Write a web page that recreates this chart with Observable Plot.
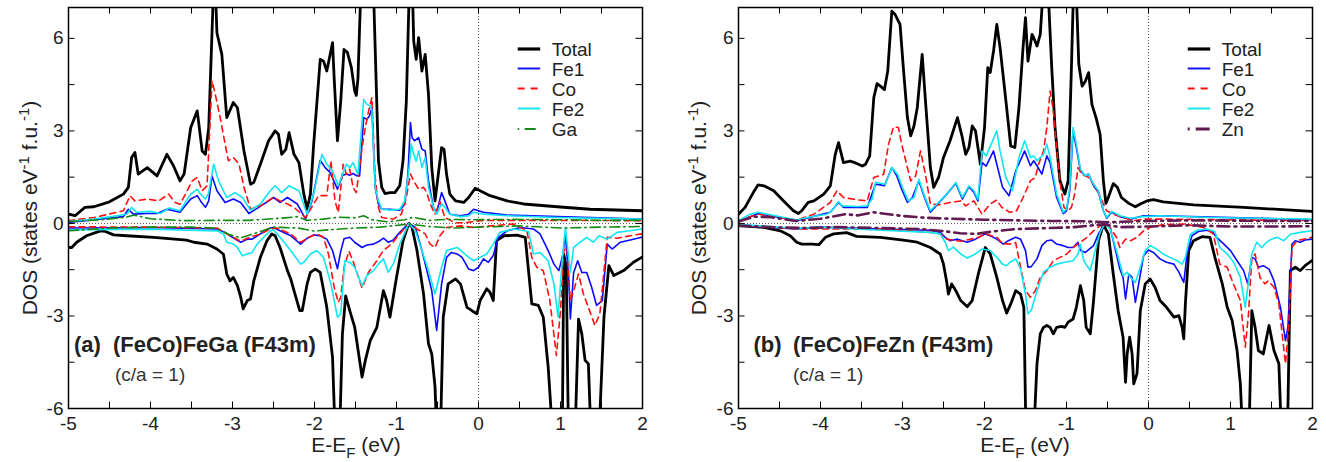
<!DOCTYPE html>
<html><head><meta charset="utf-8">
<script src="https://cdn.jsdelivr.net/npm/d3@7"></script>
<script src="https://cdn.jsdelivr.net/npm/@observablehq/plot@0.6"></script>
<style>
html,body{margin:0;padding:0;background:#fff;}
#wrap{position:relative;width:1326px;height:462px;overflow:hidden;font-family:"Liberation Sans",Arial,Helvetica,sans-serif;}
#wrap .panel{position:absolute;top:0;}
#overlay{position:absolute;left:0;top:0;pointer-events:none;}
</style></head><body><div id="wrap"></div>
<script>
// ---------- axis ticks ----------
const xTickVals = [-5,-4.5,-4,-3.5,-3,-2.5,-2,-1.5,-1,-0.5,0,0.5,1,1.5,2];
const xLabelVals = [-5,-4,-3,-2,-1,0,1,2];
const yTickVals = [-6,-4.5,-3,-1.5,0,1.5,3,4.5,6];
const yLabelVals = [-6,-3,0,3,6];

// ---------- panel (a) (FeCo)FeGa : [E-EF (eV), DOS] ----------
const totalUpA = [[-5.00,0.30],[-4.92,0.25],[-4.80,0.52],[-4.69,0.54],[-4.50,0.70],[-4.33,0.95],[-4.27,1.17],[-4.23,2.14],[-4.19,2.30],[-4.15,1.60],[-4.04,1.81],[-3.92,1.54],[-3.80,2.24],[-3.72,1.87],[-3.64,1.38],[-3.59,1.60],[-3.51,3.10],[-3.43,3.65],[-3.37,2.35],[-3.33,2.24],[-3.29,3.10],[-3.22,8.50],[-3.19,6.18],[-3.13,5.48],[-3.07,3.43],[-2.99,3.92],[-2.94,3.75],[-2.86,2.35],[-2.78,1.27],[-2.74,1.33],[-2.66,1.92],[-2.56,2.68],[-2.48,3.00],[-2.44,2.89],[-2.40,2.24],[-2.35,2.40],[-2.31,2.94],[-2.25,2.24],[-2.19,1.97],[-2.13,0.95],[-2.09,0.46],[-2.05,0.95],[-2.01,2.57],[-1.93,5.32],[-1.89,5.26],[-1.85,4.94],[-1.78,5.86],[-1.76,4.70],[-1.72,2.68],[-1.68,3.97],[-1.64,5.64],[-1.60,5.55],[-1.55,5.05],[-1.51,4.29],[-1.49,4.15],[-1.47,4.70],[-1.43,8.00],[-1.36,9.50],[-1.28,7.50],[-1.22,2.03],[-1.18,1.17],[-1.14,0.97],[-1.08,1.00],[-1.02,1.00],[-0.96,1.22],[-0.92,2.03],[-0.88,3.97],[-0.84,8.00],[-0.81,8.00],[-0.79,5.91],[-0.76,5.32],[-0.73,6.02],[-0.69,4.94],[-0.65,5.48],[-0.61,4.19],[-0.57,1.81],[-0.53,0.73],[-0.49,1.60],[-0.45,2.46],[-0.42,2.40],[-0.39,1.60],[-0.35,0.95],[-0.28,0.73],[-0.18,0.68],[-0.12,0.84],[-0.04,1.14],[0.02,1.06],[0.14,0.90],[0.35,0.73],[0.55,0.63],[0.96,0.54],[1.36,0.46],[2.00,0.41]];
const totalDnA = [[-5.00,-0.78],[-4.96,-0.78],[-4.90,-0.61],[-4.78,-0.40],[-4.61,-0.24],[-4.55,-0.26],[-4.45,-0.37],[-4.29,-0.40],[-3.96,-0.45],[-3.56,-0.54],[-3.47,-0.61],[-3.31,-0.67],[-3.19,-0.83],[-3.11,-1.00],[-3.07,-1.64],[-3.03,-1.86],[-2.99,-1.75],[-2.94,-2.02],[-2.90,-2.39],[-2.87,-2.77],[-2.82,-2.50],[-2.78,-2.45],[-2.74,-1.86],[-2.66,-1.10],[-2.58,-0.56],[-2.52,-0.34],[-2.48,-0.40],[-2.42,-0.78],[-2.33,-1.53],[-2.29,-1.80],[-2.25,-2.18],[-2.18,-2.83],[-2.15,-2.83],[-2.09,-1.96],[-2.05,-1.59],[-1.99,-1.48],[-1.93,-1.59],[-1.85,-2.72],[-1.78,-4.34],[-1.74,-7.50],[-1.70,-7.50],[-1.66,-3.60],[-1.62,-2.35],[-1.57,-2.83],[-1.51,-3.36],[-1.42,-4.98],[-1.38,-4.44],[-1.32,-3.80],[-1.24,-3.37],[-1.16,-2.18],[-1.12,-2.50],[-1.08,-3.04],[-1.00,-1.75],[-0.92,-0.56],[-0.85,0.00],[-0.81,-0.13],[-0.75,-0.88],[-0.67,-2.29],[-0.61,-3.90],[-0.57,-4.23],[-0.53,-5.30],[-0.50,-7.50],[-0.47,-7.50],[-0.43,-3.04],[-0.37,-1.96],[-0.28,-1.80],[-0.22,-1.96],[-0.14,-2.72],[-0.08,-2.83],[-0.02,-2.93],[0.02,-2.50],[0.10,-2.12],[0.14,-2.23],[0.18,-2.50],[0.22,-0.56],[0.31,-0.40],[0.47,-0.38],[0.57,-0.45],[0.65,-2.61],[0.73,-2.66],[0.79,-3.04],[0.85,-4.66],[0.92,-7.50],[1.02,-7.50],[1.04,-1.00],[1.07,-1.40],[1.10,-7.50],[1.17,-7.50],[1.22,-3.10],[1.26,-3.58],[1.30,-4.44],[1.34,-4.55],[1.38,-7.50],[1.46,-7.50],[1.53,-3.04],[1.59,-1.37],[1.65,-1.69],[1.77,-1.53],[1.89,-1.26],[1.99,-1.10]];
const fe1UpA = [[-5.00,0.03],[-4.33,0.22],[-4.27,0.46],[-4.21,0.30],[-4.04,0.32],[-3.92,0.32],[-3.80,0.46],[-3.64,0.36],[-3.51,0.79],[-3.43,0.90],[-3.39,0.73],[-3.33,0.52],[-3.29,0.73],[-3.25,1.54],[-3.19,1.06],[-3.09,0.68],[-2.99,0.79],[-2.90,0.68],[-2.80,0.32],[-2.68,0.52],[-2.56,0.73],[-2.50,0.84],[-2.42,0.68],[-2.33,0.84],[-2.21,0.63],[-2.11,0.14],[-2.03,0.73],[-1.93,2.05],[-1.87,1.81],[-1.81,1.65],[-1.72,1.11],[-1.66,1.55],[-1.61,1.60],[-1.57,1.56],[-1.53,1.62],[-1.49,1.55],[-1.45,1.54],[-1.40,3.43],[-1.36,3.38],[-1.33,3.48],[-1.30,3.75],[-1.26,1.17],[-1.22,0.62],[-1.18,0.46],[-1.08,0.46],[-0.96,0.43],[-0.90,0.62],[-0.86,1.60],[-0.83,3.27],[-0.81,2.78],[-0.78,2.68],[-0.73,2.78],[-0.69,2.41],[-0.65,2.35],[-0.61,1.38],[-0.55,0.52],[-0.51,0.36],[-0.45,1.00],[-0.41,0.73],[-0.35,0.30],[-0.22,0.25],[-0.12,0.30],[-0.06,0.46],[0.06,0.36],[0.35,0.27],[0.96,0.22],[2.00,0.14]];
const fe1DnA = [[-5.00,-0.15],[-4.00,-0.13],[-3.19,-0.18],[-3.09,-0.29],[-3.03,-0.40],[-2.90,-0.61],[-2.82,-0.51],[-2.76,-0.51],[-2.66,-0.34],[-2.54,-0.15],[-2.50,-0.13],[-2.42,-0.24],[-2.29,-0.40],[-2.17,-0.67],[-2.09,-0.48],[-2.01,-0.37],[-1.93,-0.40],[-1.85,-0.51],[-1.78,-0.88],[-1.72,-1.47],[-1.68,-0.90],[-1.64,-0.50],[-1.57,-0.45],[-1.51,-0.61],[-1.42,-0.78],[-1.36,-0.70],[-1.28,-0.67],[-1.20,-0.56],[-1.16,-0.48],[-1.10,-0.61],[-1.04,-0.54],[-0.96,-0.29],[-0.85,0.00],[-0.77,-0.13],[-0.69,-0.88],[-0.63,-1.53],[-0.57,-2.18],[-0.51,-3.47],[-0.45,-1.96],[-0.39,-1.10],[-0.33,-0.94],[-0.26,-0.99],[-0.20,-1.10],[-0.12,-1.48],[-0.06,-1.53],[0.00,-1.42],[0.06,-1.15],[0.12,-1.26],[0.18,-1.04],[0.24,-0.45],[0.35,-0.24],[0.51,-0.13],[0.67,-0.18],[0.75,-0.34],[0.85,-0.88],[0.92,-1.32],[0.98,-1.53],[1.03,-1.00],[1.06,-0.35],[1.10,-1.80],[1.12,-3.10],[1.16,-1.60],[1.21,-1.21],[1.26,-1.59],[1.32,-1.59],[1.38,-2.07],[1.44,-2.66],[1.51,-2.50],[1.57,-0.67],[1.63,-0.83],[1.73,-0.61],[1.85,-0.54],[1.99,-0.45]];
const coUpA = [[-5.00,0.09],[-4.69,0.19],[-4.33,0.41],[-4.25,0.90],[-4.19,0.73],[-4.04,0.79],[-3.90,0.73],[-3.78,0.95],[-3.70,0.68],[-3.64,0.62],[-3.49,1.38],[-3.43,1.49],[-3.37,1.06],[-3.31,1.22],[-3.25,4.62],[-3.21,4.19],[-3.15,3.43],[-3.09,2.57],[-3.05,2.03],[-2.99,2.14],[-2.92,1.92],[-2.86,1.17],[-2.78,0.46],[-2.66,0.57],[-2.50,0.84],[-2.42,0.73],[-2.33,0.63],[-2.25,0.52],[-2.11,0.19],[-2.01,0.63],[-1.95,0.90],[-1.85,0.90],[-1.80,2.03],[-1.75,0.73],[-1.71,0.36],[-1.65,1.92],[-1.61,1.59],[-1.57,1.76],[-1.53,1.17],[-1.49,1.00],[-1.42,2.46],[-1.38,3.11],[-1.34,3.65],[-1.30,4.08],[-1.26,1.49],[-1.22,0.52],[-1.18,0.19],[-1.04,0.14],[-0.94,0.30],[-0.88,0.84],[-0.83,1.60],[-0.79,1.38],[-0.73,1.11],[-0.67,1.17],[-0.63,1.00],[-0.59,0.63],[-0.53,0.30],[-0.47,0.70],[-0.41,0.19],[-0.28,0.02],[-0.16,0.02],[0.02,0.09],[0.35,0.10],[2.00,0.09]];
const coDnA = [[-5.00,-0.11],[-4.00,-0.12],[-3.19,-0.15],[-3.07,-0.34],[-2.90,-0.58],[-2.82,-0.48],[-2.66,-0.34],[-2.54,-0.18],[-2.46,-0.15],[-2.29,-0.34],[-2.17,-0.61],[-2.05,-0.43],[-1.97,-0.34],[-1.89,-0.45],[-1.83,-0.99],[-1.76,-2.07],[-1.71,-2.56],[-1.68,-2.40],[-1.64,-1.42],[-1.58,-0.90],[-1.52,-1.30],[-1.42,-2.09],[-1.34,-1.58],[-1.24,-1.21],[-1.16,-0.88],[-1.06,-0.67],[-0.96,-0.34],[-0.85,0.00],[-0.75,-0.18],[-0.65,-0.34],[-0.59,-0.67],[-0.53,-0.78],[-0.47,-0.40],[-0.39,-0.13],[-0.22,-0.08],[-0.06,-0.13],[0.14,-0.08],[0.43,-0.02],[0.59,-0.24],[0.65,-1.10],[0.71,-1.42],[0.79,-1.53],[0.87,-2.50],[0.95,-4.28],[1.00,-2.83],[1.04,-0.88],[1.08,-0.78],[1.12,-2.50],[1.16,-2.18],[1.22,-1.64],[1.28,-2.29],[1.34,-2.72],[1.42,-3.31],[1.48,-2.93],[1.57,-0.45],[1.69,-0.48],[1.85,-0.40],[1.99,-0.34]];
const fe2UpA = [[-5.00,0.06],[-4.69,0.14],[-4.29,0.30],[-4.23,0.52],[-4.17,0.36],[-4.00,0.39],[-3.88,0.32],[-3.77,0.50],[-3.64,0.41],[-3.51,0.95],[-3.43,1.11],[-3.39,0.95],[-3.33,0.79],[-3.29,1.00],[-3.23,1.92],[-3.17,1.38],[-3.07,0.84],[-2.97,1.00],[-2.88,0.84],[-2.78,0.43],[-2.66,0.63],[-2.54,1.06],[-2.48,1.22],[-2.40,1.00],[-2.31,1.22],[-2.19,1.06],[-2.09,0.30],[-2.01,0.95],[-1.91,2.24],[-1.85,1.92],[-1.78,1.70],[-1.71,1.22],[-1.65,1.65],[-1.61,1.92],[-1.57,1.81],[-1.53,1.97],[-1.47,1.59],[-1.40,4.02],[-1.36,3.86],[-1.32,3.81],[-1.30,3.65],[-1.26,1.17],[-1.22,0.73],[-1.18,0.46],[-1.08,0.43],[-0.96,0.46],[-0.90,0.73],[-0.85,1.70],[-0.82,2.57],[-0.79,2.24],[-0.76,2.02],[-0.73,2.35],[-0.69,1.81],[-0.65,2.14],[-0.61,1.17],[-0.55,0.52],[-0.51,0.30],[-0.45,0.63],[-0.41,0.52],[-0.35,0.30],[-0.22,0.22],[-0.12,0.25],[-0.06,0.36],[0.06,0.30],[0.35,0.25],[0.96,0.19],[2.00,0.14]];
const fe2DnA = [[-5.00,-0.21],[-4.00,-0.19],[-3.19,-0.24],[-3.11,-0.34],[-3.07,-0.61],[-2.99,-0.67],[-2.94,-0.78],[-2.88,-1.05],[-2.82,-0.99],[-2.76,-0.94],[-2.70,-0.67],[-2.62,-0.45],[-2.54,-0.24],[-2.50,-0.21],[-2.42,-0.45],[-2.29,-0.88],[-2.17,-1.32],[-2.13,-1.26],[-2.05,-0.99],[-1.97,-0.88],[-1.89,-1.10],[-1.80,-1.96],[-1.72,-3.04],[-1.68,-2.93],[-1.63,-1.21],[-1.57,-1.26],[-1.51,-1.42],[-1.42,-2.02],[-1.36,-1.69],[-1.28,-1.53],[-1.22,-1.32],[-1.16,-1.15],[-1.10,-1.58],[-1.04,-1.32],[-0.96,-0.67],[-0.85,0.00],[-0.77,-0.24],[-0.69,-0.88],[-0.61,-1.53],[-0.53,-2.29],[-0.45,-1.42],[-0.39,-0.88],[-0.26,-0.78],[-0.14,-1.05],[-0.06,-1.21],[0.02,-1.10],[0.10,-0.99],[0.18,-0.67],[0.26,-0.29],[0.43,-0.18],[0.61,-0.26],[0.67,-0.99],[0.75,-0.94],[0.85,-1.21],[0.92,-1.96],[0.97,-3.04],[1.02,-1.21],[1.06,-0.13],[1.12,-1.59],[1.16,-0.78],[1.24,-0.61],[1.32,-0.45],[1.40,-0.61],[1.47,-0.40],[1.57,-0.51],[1.69,-0.29],[1.85,-0.24],[1.99,-0.18]];
const gaUpA = [[-5.00,0.06],[-4.60,0.12],[-4.30,0.20],[-4.20,0.27],[-4.00,0.15],[-3.60,0.09],[-3.20,0.10],[-2.80,0.10],[-2.40,0.17],[-2.20,0.22],[-2.10,0.10],[-1.90,0.14],[-1.70,0.20],[-1.50,0.18],[-1.40,0.25],[-1.30,0.12],[-1.10,0.05],[-0.90,0.12],[-0.80,0.20],[-0.60,0.10],[-0.40,0.13],[-0.10,0.12],[0.40,0.13],[1.00,0.12],[1.50,0.10],[2.00,0.10]];
const gaDnA = [[-5.00,-0.24],[-4.50,-0.15],[-4.00,-0.12],[-3.50,-0.12],[-3.20,-0.15],[-3.05,-0.35],[-2.90,-0.47],[-2.70,-0.30],[-2.50,-0.12],[-2.20,-0.15],[-2.00,-0.25],[-1.80,-0.20],[-1.50,-0.15],[-1.20,-0.12],[-0.85,-0.02],[-0.60,-0.10],[-0.30,-0.15],[0.00,-0.12],[0.50,-0.08],[1.00,-0.15],[1.50,-0.12],[2.00,-0.10]];

// ---------- panel (b) (FeCo)FeZn ----------
const totalUpB = [[-5.00,0.30],[-4.92,0.52],[-4.82,1.00],[-4.76,1.25],[-4.69,1.22],[-4.57,1.06],[-4.45,0.73],[-4.33,0.41],[-4.27,0.32],[-4.23,0.41],[-4.15,0.68],[-4.08,0.73],[-3.96,0.95],[-3.88,1.22],[-3.82,2.24],[-3.78,2.62],[-3.72,1.97],[-3.64,2.02],[-3.58,1.97],[-3.49,1.86],[-3.45,1.92],[-3.40,2.19],[-3.35,4.08],[-3.31,4.53],[-3.27,4.45],[-3.22,4.34],[-3.18,4.94],[-3.13,6.88],[-3.09,6.77],[-3.03,6.45],[-2.99,5.05],[-2.94,3.43],[-2.90,2.84],[-2.86,3.16],[-2.82,3.75],[-2.76,5.48],[-2.72,3.97],[-2.66,1.81],[-2.62,1.17],[-2.56,1.49],[-2.50,2.14],[-2.42,2.68],[-2.33,3.43],[-2.27,2.78],[-2.23,2.24],[-2.19,2.46],[-2.15,3.16],[-2.11,3.00],[-2.05,1.92],[-2.00,3.10],[-1.96,5.05],[-1.93,4.89],[-1.89,5.59],[-1.85,6.45],[-1.81,5.70],[-1.74,4.00],[-1.68,2.51],[-1.63,2.46],[-1.58,3.75],[-1.53,5.70],[-1.50,6.67],[-1.47,5.26],[-1.42,6.13],[-1.40,6.02],[-1.36,5.75],[-1.32,6.13],[-1.25,9.00],[-1.18,5.05],[-1.14,3.11],[-1.08,1.38],[-1.02,0.95],[-0.98,1.38],[-0.94,5.05],[-0.90,9.00],[-0.85,5.16],[-0.81,4.45],[-0.77,4.61],[-0.73,4.89],[-0.69,3.86],[-0.64,3.43],[-0.59,2.89],[-0.55,1.38],[-0.52,0.65],[-0.49,0.84],[-0.43,1.29],[-0.38,1.17],[-0.33,0.84],[-0.24,0.65],[-0.16,0.54],[-0.10,0.63],[-0.02,0.73],[0.06,0.77],[0.18,0.70],[0.55,0.60],[1.16,0.52],[1.99,0.39]];
const totalDnB = [[-5.00,-0.07],[-4.69,-0.13],[-4.49,-0.24],[-4.37,-0.40],[-4.29,-0.61],[-4.23,-0.67],[-4.10,-0.67],[-4.02,-0.69],[-3.94,-0.45],[-3.84,-0.34],[-3.68,-0.30],[-3.56,-0.42],[-3.27,-0.45],[-2.99,-0.54],[-2.82,-0.61],[-2.66,-0.78],[-2.54,-0.99],[-2.50,-1.32],[-2.46,-1.91],[-2.44,-2.29],[-2.40,-1.96],[-2.35,-2.18],[-2.29,-2.50],[-2.21,-2.70],[-2.15,-2.50],[-2.07,-1.58],[-1.99,-0.78],[-1.93,-0.99],[-1.85,-1.75],[-1.78,-2.50],[-1.73,-2.91],[-1.68,-2.61],[-1.62,-2.18],[-1.56,-2.29],[-1.52,-2.72],[-1.49,-7.50],[-1.41,-7.50],[-1.36,-4.55],[-1.32,-3.58],[-1.28,-3.37],[-1.24,-3.31],[-1.20,-3.37],[-1.16,-3.58],[-1.12,-3.37],[-1.06,-3.34],[-1.02,-3.37],[-0.98,-3.20],[-0.92,-3.10],[-0.88,-2.72],[-0.83,-2.02],[-0.79,-2.50],[-0.76,-3.37],[-0.71,-3.58],[-0.67,-2.50],[-0.61,-0.56],[-0.55,-0.04],[-0.49,-0.34],[-0.43,-1.64],[-0.37,-2.83],[-0.31,-3.69],[-0.28,-5.15],[-0.26,-4.23],[-0.23,-3.69],[-0.20,-4.23],[-0.18,-5.20],[-0.14,-4.87],[-0.10,-2.83],[-0.04,-1.96],[0.02,-1.80],[0.08,-2.07],[0.14,-2.50],[0.22,-2.72],[0.31,-3.04],[0.37,-2.99],[0.41,-3.37],[0.43,-3.74],[0.45,-2.60],[0.49,-0.88],[0.55,-0.56],[0.65,-0.43],[0.75,-0.45],[0.81,-1.10],[0.90,-1.96],[0.96,-2.72],[1.02,-3.15],[1.08,-4.12],[1.12,-5.20],[1.16,-7.50],[1.22,-7.50],[1.26,-2.83],[1.30,-3.37],[1.34,-4.12],[1.40,-4.23],[1.47,-3.31],[1.53,-4.12],[1.59,-4.55],[1.63,-7.50],[1.69,-7.50],[1.73,-1.53],[1.79,-1.42],[1.85,-1.53],[1.91,-1.37],[1.99,-1.21]];
const fe1UpB = [[-5.00,0.06],[-4.76,0.32],[-4.29,0.09],[-3.88,0.36],[-3.78,0.68],[-3.72,0.52],[-3.43,0.52],[-3.33,1.27],[-3.27,1.25],[-3.22,1.22],[-3.13,1.81],[-3.07,1.54],[-3.01,1.11],[-2.94,0.68],[-2.88,0.84],[-2.80,1.38],[-2.74,0.90],[-2.66,0.36],[-2.58,0.60],[-2.46,0.95],[-2.35,1.30],[-2.27,0.79],[-2.19,1.19],[-2.13,1.01],[-2.08,0.73],[-2.03,1.97],[-1.98,1.86],[-1.89,2.35],[-1.85,1.92],[-1.78,1.17],[-1.70,0.90],[-1.62,1.70],[-1.51,2.35],[-1.44,1.87],[-1.40,2.03],[-1.36,1.87],[-1.30,1.60],[-1.24,2.19],[-1.20,1.97],[-1.12,0.84],[-1.04,0.32],[-1.00,0.41],[-0.96,1.06],[-0.92,3.00],[-0.88,2.46],[-0.83,1.70],[-0.77,1.54],[-0.73,1.60],[-0.67,1.22],[-0.61,1.00],[-0.55,0.41],[-0.51,0.17],[-0.45,0.36],[-0.35,0.22],[-0.22,0.14],[-0.06,0.25],[0.14,0.25],[1.99,0.12]];
const fe1DnB = [[-5.00,-0.07],[-4.29,-0.18],[-4.00,-0.12],[-3.27,-0.18],[-2.66,-0.22],[-2.54,-0.29],[-2.48,-0.45],[-2.42,-0.56],[-2.33,-0.51],[-2.21,-0.61],[-2.11,-0.51],[-1.99,-0.34],[-1.93,-0.40],[-1.85,-0.51],[-1.77,-0.67],[-1.71,-0.56],[-1.62,-0.45],[-1.56,-0.51],[-1.50,-0.88],[-1.47,-1.42],[-1.43,-1.40],[-1.36,-1.15],[-1.30,-0.72],[-1.24,-0.56],[-1.18,-0.54],[-1.12,-0.67],[-1.04,-0.72],[-0.98,-0.78],[-0.92,-0.78],[-0.86,-0.61],[-0.83,-0.88],[-0.77,-0.94],[-0.67,-0.72],[-0.61,-0.34],[-0.55,-0.08],[-0.51,0.00],[-0.47,-0.13],[-0.41,-0.78],[-0.35,-1.48],[-0.31,-1.75],[-0.28,-2.45],[-0.24,-1.64],[-0.20,-1.75],[-0.16,-2.56],[-0.12,-1.96],[-0.06,-1.05],[0.00,-0.86],[0.06,-0.94],[0.14,-1.15],[0.22,-1.26],[0.31,-1.32],[0.37,-1.58],[0.43,-1.91],[0.47,-0.99],[0.53,-0.40],[0.61,-0.26],[0.71,-0.22],[0.77,-0.24],[0.83,-0.45],[0.92,-0.67],[1.00,-0.88],[1.08,-1.21],[1.16,-1.53],[1.21,-1.96],[1.26,-1.10],[1.30,-1.15],[1.34,-1.42],[1.40,-1.37],[1.47,-1.48],[1.53,-1.86],[1.61,-2.72],[1.67,-3.80],[1.70,-3.36],[1.75,-0.67],[1.79,-0.56],[1.85,-0.61],[1.91,-0.54],[1.99,-0.51]];
const coUpB = [[-5.00,0.09],[-4.76,0.30],[-4.29,0.11],[-4.08,0.30],[-3.88,0.68],[-3.80,1.06],[-3.72,0.84],[-3.56,0.77],[-3.43,0.73],[-3.35,1.49],[-3.23,1.59],[-3.17,2.57],[-3.11,3.13],[-3.05,3.11],[-3.01,2.57],[-2.94,1.81],[-2.90,1.38],[-2.84,1.54],[-2.78,2.35],[-2.72,1.59],[-2.66,0.63],[-2.56,0.60],[-2.42,0.68],[-2.29,0.73],[-2.23,0.57],[-2.13,0.73],[-2.03,0.30],[-1.93,0.63],[-1.85,0.76],[-1.79,0.52],[-1.69,0.36],[-1.61,0.41],[-1.53,0.84],[-1.44,1.38],[-1.38,1.49],[-1.34,1.92],[-1.28,2.35],[-1.24,3.11],[-1.20,4.29],[-1.16,3.65],[-1.11,2.14],[-1.07,1.17],[-1.03,0.52],[-0.98,0.41],[-0.94,0.52],[-0.90,0.95],[-0.86,1.81],[-0.81,1.59],[-0.73,1.49],[-0.67,1.27],[-0.61,1.00],[-0.55,0.63],[-0.51,0.41],[-0.43,0.30],[-0.31,0.19],[-0.18,0.09],[-0.06,0.14],[0.14,0.14],[1.99,0.09]];
const coDnB = [[-5.00,-0.05],[-4.29,-0.18],[-3.27,-0.18],[-2.66,-0.29],[-2.54,-0.34],[-2.46,-0.51],[-2.29,-0.58],[-2.07,-0.45],[-1.99,-0.34],[-1.85,-0.45],[-1.78,-0.65],[-1.69,-0.67],[-1.62,-0.62],[-1.56,-1.42],[-1.50,-2.18],[-1.44,-2.39],[-1.38,-2.18],[-1.32,-1.75],[-1.24,-1.53],[-1.16,-1.21],[-1.08,-1.10],[-1.00,-1.00],[-0.92,-0.78],[-0.83,-0.61],[-0.75,-0.45],[-0.67,-0.24],[-0.59,-0.08],[-0.53,0.00],[-0.47,-0.13],[-0.39,-0.45],[-0.35,-0.78],[-0.28,-0.51],[-0.22,-0.56],[-0.14,-0.45],[-0.06,-0.24],[0.02,-0.13],[0.18,-0.04],[0.43,-0.02],[0.67,-0.13],[0.79,-0.34],[0.87,-1.32],[0.96,-1.42],[1.02,-1.86],[1.12,-2.50],[1.18,-4.01],[1.22,-2.93],[1.26,-1.10],[1.30,-0.99],[1.36,-1.75],[1.42,-1.96],[1.46,-1.86],[1.53,-2.07],[1.59,-2.61],[1.63,-3.58],[1.67,-4.55],[1.71,-3.36],[1.75,-0.78],[1.81,-0.56],[1.89,-0.51],[1.99,-0.45]];
const fe2UpB = [[-5.00,0.09],[-4.86,0.30],[-4.76,0.36],[-4.61,0.28],[-4.29,0.11],[-4.15,0.20],[-3.92,0.30],[-3.86,0.41],[-3.78,0.71],[-3.74,0.57],[-3.55,0.55],[-3.43,0.57],[-3.37,0.79],[-3.33,1.33],[-3.27,1.30],[-3.21,1.27],[-3.13,1.81],[-3.06,1.59],[-3.00,1.17],[-2.93,0.73],[-2.86,0.84],[-2.80,1.43],[-2.74,0.95],[-2.66,0.41],[-2.58,0.63],[-2.46,0.95],[-2.35,1.33],[-2.27,0.84],[-2.19,1.22],[-2.13,1.06],[-2.08,0.79],[-2.03,2.35],[-1.98,2.19],[-1.91,2.62],[-1.85,3.00],[-1.81,2.35],[-1.74,1.49],[-1.66,1.06],[-1.58,2.14],[-1.51,2.68],[-1.44,2.14],[-1.40,2.19],[-1.36,2.03],[-1.28,2.24],[-1.24,2.57],[-1.20,2.14],[-1.12,0.95],[-1.04,0.36],[-1.00,0.46],[-0.96,1.17],[-0.92,3.11],[-0.88,2.57],[-0.83,1.76],[-0.77,1.54],[-0.73,1.60],[-0.67,1.27],[-0.61,1.06],[-0.55,0.41],[-0.51,0.19],[-0.45,0.39],[-0.35,0.25],[-0.22,0.17],[-0.06,0.22],[0.14,0.25],[0.75,0.19],[1.99,0.14]];
const fe2DnB = [[-5.00,-0.03],[-4.29,-0.16],[-4.00,-0.12],[-3.27,-0.22],[-2.66,-0.29],[-2.54,-0.34],[-2.48,-0.61],[-2.44,-0.88],[-2.38,-0.77],[-2.29,-0.99],[-2.21,-1.12],[-2.11,-0.99],[-2.03,-0.83],[-1.93,-0.88],[-1.85,-1.10],[-1.78,-1.32],[-1.73,-1.37],[-1.69,-1.26],[-1.62,-1.15],[-1.56,-1.48],[-1.50,-2.30],[-1.47,-2.93],[-1.43,-2.82],[-1.36,-2.18],[-1.28,-1.58],[-1.20,-1.42],[-1.12,-1.32],[-1.02,-1.26],[-0.92,-1.21],[-0.86,-1.00],[-0.83,-0.67],[-0.79,-1.21],[-0.71,-1.53],[-0.65,-0.88],[-0.59,-0.29],[-0.53,0.00],[-0.47,-0.18],[-0.39,-0.88],[-0.31,-1.69],[-0.26,-1.58],[-0.22,-1.75],[-0.16,-1.91],[-0.10,-1.42],[-0.04,-0.88],[0.02,-0.72],[0.10,-0.83],[0.18,-0.99],[0.26,-1.10],[0.35,-1.21],[0.41,-1.32],[0.45,-1.10],[0.51,-0.35],[0.59,-0.22],[0.71,-0.18],[0.81,-0.26],[0.87,-0.78],[0.96,-0.99],[1.04,-1.26],[1.12,-1.75],[1.18,-2.72],[1.22,-1.86],[1.26,-0.99],[1.32,-0.61],[1.38,-0.78],[1.44,-0.61],[1.50,-0.51],[1.57,-0.45],[1.65,-0.56],[1.73,-0.35],[1.85,-0.29],[1.99,-0.24]];
const znUpB = [[-5.00,0.06],[-4.80,0.22],[-4.60,0.20],[-4.30,0.08],[-4.00,0.15],[-3.80,0.25],[-3.70,0.30],[-3.55,0.26],[-3.35,0.36],[-3.00,0.24],[-2.70,0.18],[-2.40,0.15],[-2.00,0.12],[-1.60,0.10],[-1.20,0.08],[-0.80,0.07],[-0.50,0.04],[0.00,0.08],[0.50,0.10],[1.00,0.09],[1.50,0.08],[2.00,0.08]];
const znDnB = [[-5.00,-0.07],[-4.50,-0.13],[-4.20,-0.15],[-3.80,-0.12],[-3.30,-0.15],[-2.80,-0.18],[-2.50,-0.25],[-2.30,-0.32],[-2.10,-0.34],[-1.90,-0.26],[-1.60,-0.18],[-1.20,-0.15],[-0.90,-0.12],[-0.55,-0.03],[-0.35,-0.12],[0.00,-0.10],[0.50,-0.06],[1.00,-0.10],[1.50,-0.10],[2.00,-0.09]];

// ---------- legend labels ----------
const legendA = ["Total","Fe1","Co","Fe2","Ga"];
const legendB = ["Total","Fe1","Co","Fe2","Zn"];

// ---------- styles ----------
const styles = {
  Total: {stroke: "#000000", strokeWidth: 2.8, dash: null},
  Fe1:   {stroke: "#0a0aff", strokeWidth: 1.6, dash: null},
  Co:    {stroke: "#ff1010", strokeWidth: 1.6, dash: "6,4.5"},
  Fe2:   {stroke: "#12e6f2", strokeWidth: 1.6, dash: null},
  Ga:    {stroke: "#138a13", strokeWidth: 1.6, dash: "10,4,1.5,4"},
  Zn:    {stroke: "#611b4f", strokeWidth: 2.6, dash: "12,5,2,5"}
};

const panels = [
  {left: 0, marginLeft: 68, marginRight: 21,
   series: [["Total", totalUpA, totalDnA], ["Fe1", fe1UpA, fe1DnA], ["Co", coUpA, coDnA], ["Fe2", fe2UpA, fe2DnA], ["Ga", gaUpA, gaDnA]]},
  {left: 663, marginLeft: 75, marginRight: 14,
   series: [["Total", totalUpB, totalDnB], ["Fe1", fe1UpB, fe1DnB], ["Co", coUpB, coDnB], ["Fe2", fe2UpB, fe2DnB], ["Zn", znUpB, znDnB]]}
];

const W = 663, H = 462, MT = 7, MB = 54;
const FONT = "'Liberation Sans', Arial, Helvetica, sans-serif";
const wrap = document.getElementById("wrap");

for (const p of panels) {
  const innerW = W - p.marginLeft - p.marginRight;
  const innerH = H - MT - MB;
  const tx = 6.5 * 7 / innerW;   // tick length in x data units
  const ty = 6.5 * 13 / innerH;  // tick length in y data units
  const lineMarks = [];
  for (const [name, up, dn] of p.series) {
    const s = styles[name];
    for (const data of [up, dn]) {
      lineMarks.push(Plot.line(data, {
        x: d => d[0], y: d => d[1], stroke: s.stroke, strokeWidth: s.strokeWidth,
        strokeDasharray: s.dash || undefined, strokeLinejoin: "round", clip: true
      }));
    }
  }
  const chart = Plot.plot({
    width: W, height: H,
    marginLeft: p.marginLeft, marginRight: p.marginRight, marginTop: MT, marginBottom: MB,
    x: {domain: [-5, 2]},
    y: {domain: [-6, 7]},
    style: {fontFamily: FONT, fontSize: "19px", color: "#222", background: "white", overflow: "visible"},
    marks: [
      Plot.ruleX([0], {stroke: "#555", strokeWidth: 1, strokeDasharray: "1,2"}),
      Plot.ruleY([0], {stroke: "#555", strokeWidth: 1, strokeDasharray: "1,2"}),
      ...lineMarks,
      Plot.axisX({anchor: "bottom", ticks: xLabelVals, tickSize: 0, tickPadding: 8, tickFormat: d => String(d), label: null, fontSize: 19}),
      Plot.axisY({anchor: "left", ticks: yLabelVals, tickSize: 0, tickPadding: 5, tickFormat: d => String(d), label: null, fontSize: 19}),
      Plot.ruleX(xTickVals, {x: d => d, y1: -6, y2: -6 + ty, stroke: "#000", strokeWidth: 1}),
      Plot.ruleX(xTickVals, {x: d => d, y1: 7, y2: 7 - ty, stroke: "#000", strokeWidth: 1}),
      Plot.ruleY(yTickVals, {y: d => d, x1: -5, x2: -5 + tx, stroke: "#000", strokeWidth: 1}),
      Plot.ruleY(yTickVals, {y: d => d, x1: 2, x2: 2 - tx, stroke: "#000", strokeWidth: 1}),
      Plot.frame({stroke: "#000", strokeWidth: 1.5})
    ]
  });
  const div = document.createElement("div");
  div.className = "panel";
  div.style.left = p.left + "px";
  div.appendChild(chart);
  wrap.appendChild(div);
}

// ---------- overlay: legends, annotations, axis titles ----------
const svg = d3.select("#wrap").append("svg").attr("id", "overlay")
  .attr("width", 1326).attr("height", 462)
  .style("font-family", FONT);

function legend(names, x0) {
  const rowsY = [49, 68.5, 88.5, 108.5, 129];
  names.forEach((n, i) => {
    const s = styles[n];
    svg.append("line").attr("x1", x0).attr("x2", x0 + 22.5)
      .attr("y1", rowsY[i]).attr("y2", rowsY[i])
      .attr("stroke", s.stroke).attr("stroke-width", n === "Total" ? 3.2 : s.strokeWidth + 0.3)
      .attr("stroke-dasharray", n === "Co" ? "7,6" : n === "Ga" ? "1.5,5.5,11,6" : n === "Zn" ? "2,6,14,6" : null);
    svg.append("text").attr("x", x0 + 34).attr("y", rowsY[i] + 7)
      .attr("font-size", 19).attr("fill", "#222").text(n);
  });
}
legend(legendA, 517.7);
legend(legendB, 1187.7);

function annot(tag, title, xTag, xTitle, xCa) {
  svg.append("text").attr("x", xTag).attr("y", 352).attr("font-size", 22).attr("font-weight", "bold").attr("fill", "#222").text(tag);
  svg.append("text").attr("x", xTitle).attr("y", 352).attr("font-size", 22).attr("font-weight", "bold").attr("fill", "#222").text(title);
  svg.append("text").attr("x", xCa).attr("y", 381).attr("font-size", 19).attr("fill", "#333").text("(c/a = 1)");
}
annot("(a)", "(FeCo)FeGa (F43m)", 74, 113, 115);
annot("(b)", "(FeCo)FeZn (F43m)", 753.5, 793, 793);

function yTitle(x) {
  const t = svg.append("text").attr("transform", `translate(${x},208) rotate(-90)`)
    .attr("text-anchor", "middle").attr("font-size", 21).attr("fill", "#222");
  t.append("tspan").text("DOS (states eV");
  t.append("tspan").attr("dy", -8).attr("font-size", 15).text("-1");
  t.append("tspan").attr("dy", 8).text(" f.u.");
  t.append("tspan").attr("dy", -8).attr("font-size", 15).text("-1");
  t.append("tspan").attr("dy", 8).text(")");
}
yTitle(37);
yTitle(706);

function xTitle(cx) {
  const t = svg.append("text").attr("x", cx).attr("y", 452)
    .attr("text-anchor", "middle").attr("font-size", 21).attr("fill", "#222");
  t.append("tspan").text("E-E");
  t.append("tspan").attr("dy", 6).attr("font-size", 15).text("F");
  t.append("tspan").attr("dy", -6).text(" (eV)");
}
xTitle(356);
xTitle(1025);
</script></body></html>
